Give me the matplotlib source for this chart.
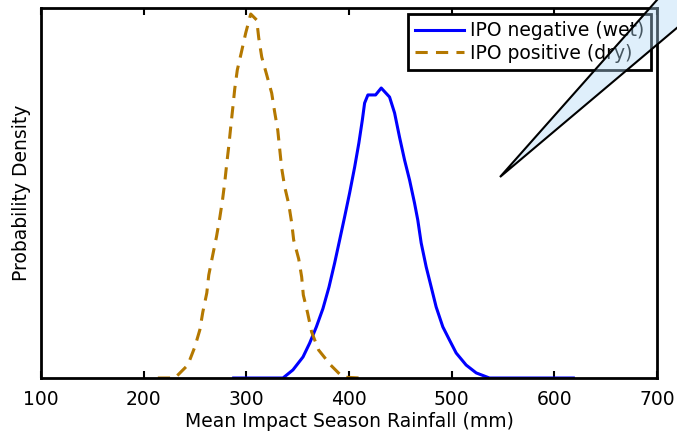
import matplotlib
matplotlib.use("Agg")
import matplotlib.pyplot as plt
from matplotlib.patches import Polygon

# Data (x: rainfall mm, y: probability density)
dry_x = [213.8, 230.4, 243.0, 249.8, 254.7, 257.6, 261.5, 263.4, 267.3, 270.9, 274.1,
         276.8, 279.0, 281.0, 282.9, 284.8, 286.8, 288.7, 291.2, 295.0, 299.4, 304.3,
         310.1, 312.1, 315.0, 319.9, 324.7, 327.6, 330.6, 332.5, 334.4, 337.4, 341.3,
         344.2, 346.1, 351.0, 353.9, 355.5, 359.7, 363.6, 370.4, 382.1, 393.8, 410.3]
dry_y = [0.0, 0.0, 0.00056, 0.00134, 0.00208, 0.00285, 0.00368, 0.00445, 0.00532, 0.00610,
         0.00692, 0.00770, 0.00847, 0.00930, 0.01003, 0.01085, 0.01168, 0.01250, 0.01332,
         0.01405, 0.01492, 0.01574, 0.01548, 0.01470, 0.01388, 0.01310, 0.01232, 0.01150,
         0.01072, 0.00990, 0.00908, 0.00826, 0.00752, 0.00670, 0.00597, 0.00515, 0.00437,
         0.00359, 0.00281, 0.00199, 0.00121, 0.00056, 0.00004, 0.0]

wet_x = [287.7, 335.7, 345.4, 355.2, 361.7, 368.2, 374.6, 380.5, 386.0, 390.9, 395.7,
         400.6, 405.5, 409.6, 413.0, 415.2, 418.4, 425.9, 431.4, 439.5, 444.4, 449.2,
         454.1, 459.0, 463.8, 467.0, 470.3, 475.2, 480.1, 484.9, 491.4, 497.9, 504.4,
         514.1, 523.9, 536.8, 618.5]
wet_y = [0.0, 0.0, 0.00035, 0.00091, 0.00151, 0.00221, 0.00300, 0.00393, 0.00497, 0.00597,
         0.00696, 0.00800, 0.00912, 0.01016, 0.01116, 0.01189, 0.01224, 0.01224, 0.01254,
         0.01215, 0.01146, 0.01042, 0.00943, 0.00856, 0.00757, 0.00683, 0.00584, 0.00480,
         0.00393, 0.00307, 0.00221, 0.00164, 0.00108, 0.00056, 0.00022, 0.0, 0.0]

labels = ["IPO negative (wet)", "IPO positive (dry)"]
xticks = [100, 200, 300, 400, 500, 600, 700]

plt.rcParams['font.family'] = ['DejaVu Sans']
FS = 13.5

W, H = 677, 433
fig = plt.figure(figsize=(W / 100, H / 100), dpi=100)
ax = fig.add_axes([41 / W, 1 - 378 / H, (657 - 41) / W, (378 - 8) / H])

ax.plot(wet_x, wet_y, color='#0000ff', lw=2.2, label=labels[0])
ax.plot(dry_x, dry_y, color='#b47800', lw=2.2, dashes=(4, 2.7), label=labels[1])

ax.set_xlim(100, 700)
ax.set_ylim(0, 0.016)
ax.set_xticks(xticks)
ax.set_xticklabels([str(t) for t in xticks], fontsize=FS)
ax.set_yticks([])
ax.tick_params(axis='x', direction='in', top=True, bottom=True, length=5, width=1.5, pad=8.5)
for s in ax.spines.values():
    s.set_linewidth(2)

ax.set_xlabel("Mean Impact Season Rainfall (mm)", fontsize=FS, labelpad=2)
ax.set_ylabel("Probability Density", fontsize=FS, labelpad=7)

leg = ax.legend(loc='upper right', fontsize=FS, frameon=True, fancybox=False,
                handlelength=2.6, borderaxespad=0.3, borderpad=0.4, labelspacing=0.2,
                handletextpad=0.3)
leg.get_frame().set_edgecolor('black')
leg.get_frame().set_linewidth(2)
leg.get_frame().set_alpha(1)

# callout wedge
pts = [(500, 177), (688, -35), (748, -32)]
poly = Polygon([(x / W, 1 - y / H) for x, y in pts], closed=True,
               transform=fig.transFigure, facecolor=(0.69, 0.85, 0.96, 0.4),
               edgecolor='black', lw=1.5, zorder=5)
fig.patches.append(poly)

fig.savefig("out.png", dpi=100)
